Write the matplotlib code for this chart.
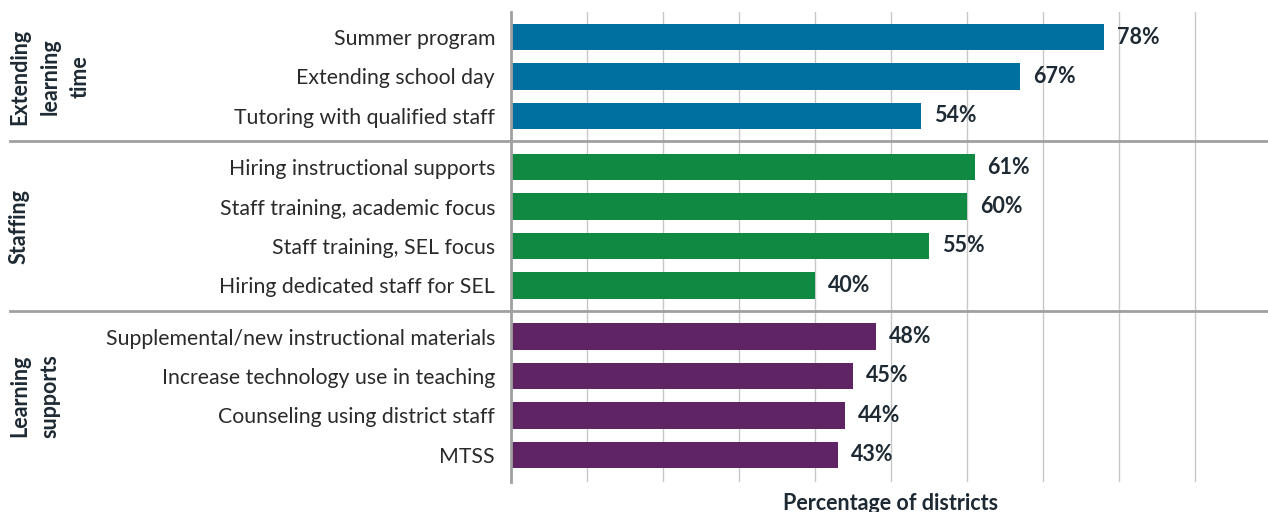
import matplotlib.pyplot as plt
import matplotlib.transforms as mtransforms

plt.rcParams["font.family"] = ["Lato", "DejaVu Sans"]

# data
groups = ["Extending\nlearning\ntime", "Staffing", "Learning\nsupports"]
labels = [
    ["Summer program", "Extending school day", "Tutoring with qualified staff"],
    ["Hiring instructional supports", "Staff training, academic focus",
     "Staff training, SEL focus", "Hiring dedicated staff for SEL"],
    ["Supplemental/new instructional materials", "Increase technology use in teaching",
     "Counseling using district staff", "MTSS"],
]
values = [
    [78, 67, 54],
    [61, 60, 55, 40],
    [48, 45, 44, 43],
]
colors = ["#0070a0", "#108a42", "#5e2463"]

W, H = 1268, 512
fig = plt.figure(figsize=(W / 100, H / 100), dpi=100)
ax = fig.add_axes([511 / W, 1 - 482 / H, 1 - 511 / W, 470 / H])

gap = 0.3
pos = 0.0
ticks, ticklabels = [], []
group_spans = []
for g, (labs, vals, col) in enumerate(zip(labels, values, colors)):
    start = pos
    for lab, v in zip(labs, vals):
        ax.barh(pos, v, height=0.67, color=col, zorder=3)
        ax.text(v + 1.7, pos, f"{v}%", va="center", ha="left",
                fontsize=15.5, fontweight="bold", color="#1e2a33", zorder=4)
        ticks.append(pos)
        ticklabels.append(lab)
        pos += 1
    group_spans.append((start, pos - 1))
    pos += gap

ax.set_yticks(ticks)
ax.set_yticklabels(ticklabels, fontsize=15.3, color="#2a2a2a", va="center_baseline")
ax.tick_params(axis="y", length=0, pad=11.5)
ax.set_xticks(range(10, 100, 10))
ax.set_xticklabels([])
ax.tick_params(axis="x", length=0)
ax.grid(axis="x", color="#c8c8c8", linewidth=1, zorder=0)

ax.set_xlim(0, 99.6)
ax.set_ylim(10.6 + 0.69, -0.635)

for s in ["top", "right", "bottom"]:
    ax.spines[s].set_visible(False)
ax.spines["left"].set_color("#a0a0a0")
ax.spines["left"].set_linewidth(2)
ax.spines["left"].set_zorder(5)

# separators between groups
blend = mtransforms.blended_transform_factory(ax.transAxes, ax.transData)
x0 = (10 - 511) / (W - 511)
for (a, b), (c, d) in zip(group_spans[:-1], group_spans[1:]):
    ymid = (b + c) / 2
    ax.plot([x0, 1], [ymid, ymid], color="#a0a0a0", linewidth=2,
            transform=blend, clip_on=False, zorder=5)

# group labels
gblend = mtransforms.blended_transform_factory(fig.transFigure, ax.transData)
for name, (a, b) in zip(groups, group_spans):
    fig.text(9 / W, (a + b) / 2, name, rotation=90, ha="left", va="center",
             multialignment="center", fontsize=15.5, fontweight="bold",
             color="#1e2a33", linespacing=1.55, transform=gblend)

ax.text(50, -(493 - 482) / 470, "Percentage of districts", ha="center", va="top",
        fontsize=15.5, fontweight="bold", color="#1e2a33",
        transform=mtransforms.blended_transform_factory(ax.transData, ax.transAxes))

fig.savefig("out.png", dpi=100)
